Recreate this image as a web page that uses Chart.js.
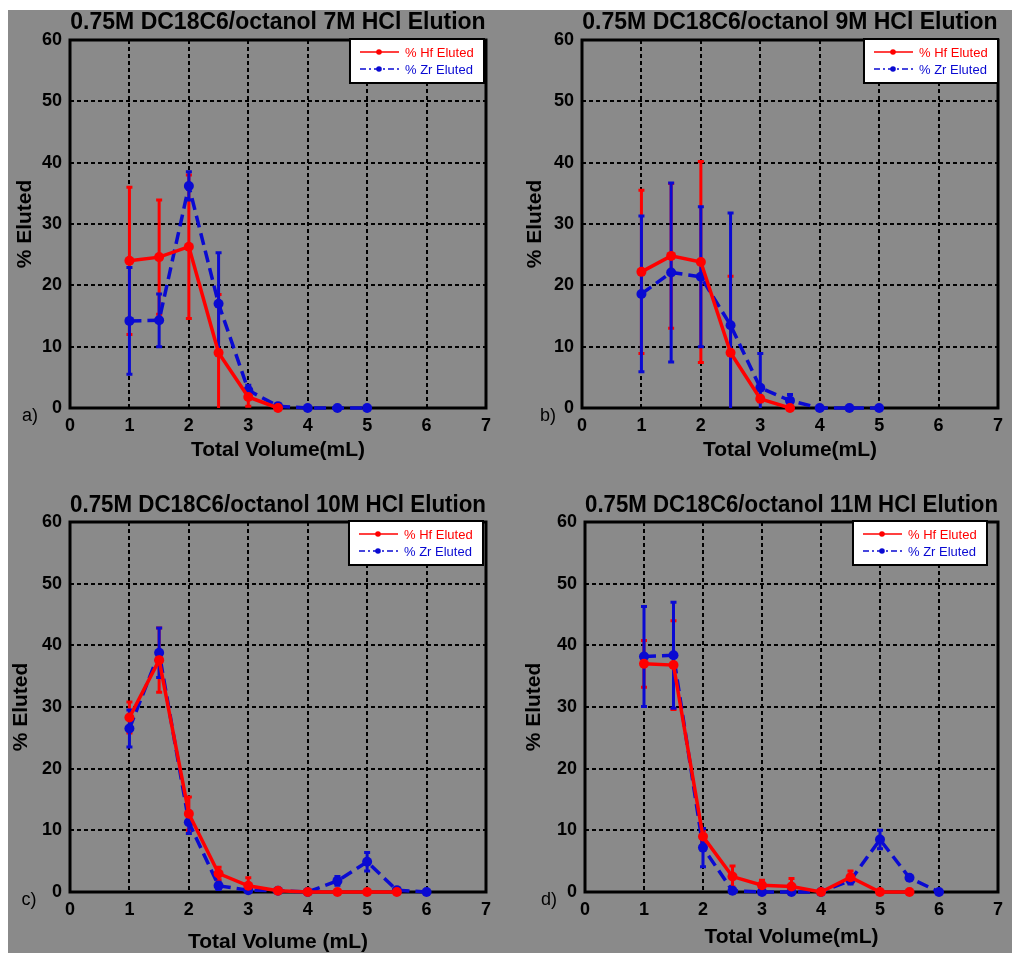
<!DOCTYPE html>
<html>
<head>
<meta charset="utf-8">
<script src="https://cdn.jsdelivr.net/npm/chart.js@4.4.0/dist/chart.umd.min.js"></script>
<style>
  body { margin: 0; background: #fff; }
  #bg { position: absolute; left: 8px; top: 10px; width: 1004px; height: 943px; background: #8a8a8a; }
  canvas { position: absolute; }
</style>
</head>
<body>
<div id="bg"></div>
<canvas id="cA" width="500" height="470" style="left:0;top:0"></canvas>
<canvas id="cB" width="512" height="470" style="left:500px;top:0"></canvas>
<canvas id="cC" width="500" height="475" style="left:0;top:478px"></canvas>
<canvas id="cD" width="512" height="475" style="left:500px;top:478px"></canvas>
<script>
// a) 7M HCl
const volHfA = [1, 1.5, 2, 2.5, 3, 3.5];
const hfA    = [24, 24.6, 26.3, 9, 1.8, 0];
const hfErrA = [12, 9.3, 11.7, 9.5, 1.5, 0];
const volZrA = [1, 1.5, 2, 2.5, 3, 3.5, 4, 4.5, 5];
const zrA    = [14.2, 14.3, 36.2, 17, 2.9, 0.3, 0, 0, 0];
const zrErrA = [8.7, 4.3, 2.3, 8.3, 0.8, 0, 0, 0, 0];

// b) 9M HCl
const volHfB = [1, 1.5, 2, 2.5, 3, 3.5];
const hfB    = [22.2, 24.8, 23.8, 9, 1.5, 0];
const hfErrB = [13.3, 11.8, 16.4, 12.5, 0.5, 0];
const volZrB = [1, 1.5, 2, 2.5, 3, 3.5, 4, 4.5, 5];
const zrB    = [18.6, 22.1, 21.4, 13.5, 3.3, 1.2, 0, 0, 0];
const zrErrB = [12.7, 14.6, 11.4, 18.3, 5.6, 1, 0, 0, 0];

// c) 10M HCl
const volHfC = [1, 1.5, 2, 2.5, 3, 3.5, 4, 4.5, 5, 5.5];
const hfC    = [28.3, 37.6, 12.7, 3, 1, 0.2, 0, 0, 0, 0];
const hfErrC = [2.5, 5.2, 2.7, 1, 1.3, 0, 0, 0, 0, 0];
const volZrC = [1, 1.5, 2, 2.5, 3, 3.5, 4, 4.5, 5, 5.5, 6];
const zrC    = [26.5, 38.8, 11.3, 1, 0.3, 0.2, 0, 1.8, 4.9, 0.3, 0];
const zrErrC = [3, 4, 1.8, 0.6, 0, 0, 0, 0.7, 1.5, 0, 0];

// d) 11M HCl
const volHfD = [1, 1.5, 2, 2.5, 3, 3.5, 4, 4.5, 5, 5.5];
const hfD    = [37, 36.8, 9, 2.5, 1.1, 0.9, 0, 2.4, 0, 0];
const hfErrD = [3.8, 7.2, 1, 1.7, 0.8, 1.3, 0, 1, 0, 0];
const volZrD = [1, 1.5, 2, 2.5, 3, 3.5, 4, 4.5, 5, 5.5, 6];
const zrD    = [38.2, 38.4, 7.2, 0.2, 0, 0, 0, 1.9, 8.5, 2.3, 0];
const zrErrD = [8.1, 8.6, 3.1, 0, 0, 0, 0, 0.6, 1.5, 0, 0];

const xTicks = [0, 1, 2, 3, 4, 5, 6, 7];
const yTicks = [0, 10, 20, 30, 40, 50, 60];

const RED = '#ff0000';
const BLUE = '#0a0ad2';
const FONT = 'Liberation Sans, Arial, sans-serif';

Chart.defaults.font.family = FONT;
Chart.defaults.color = '#000';

// frame first, then all error bars (Hf below Zr), then the lines on top
const errorBars = {
  id: 'errorBars',
  beforeDatasetsDraw(chart) {
    const { ctx, chartArea: a, scales: { x, y } } = chart;
    ctx.save();
    ctx.strokeStyle = '#000';
    ctx.lineWidth = 3;
    ctx.setLineDash([]);
    ctx.strokeRect(a.left, a.top, a.width, a.height);
    ctx.beginPath();
    ctx.rect(a.left, a.top - 2, a.width, a.height + 2);
    ctx.clip();
    chart.data.datasets.forEach(ds => {
      ctx.strokeStyle = ds.borderColor;
      ctx.lineWidth = 3;
      ds.data.forEach((p, i) => {
        const e = ds.err[i];
        if (!e) return;
        const px = x.getPixelForValue(p.x);
        const t = y.getPixelForValue(p.y + e);
        const b = y.getPixelForValue(p.y - e);
        ctx.beginPath();
        ctx.moveTo(px, t); ctx.lineTo(px, b);
        ctx.moveTo(px - 3, t); ctx.lineTo(px + 3, t);
        ctx.moveTo(px - 3, b); ctx.lineTo(px + 3, b);
        ctx.stroke();
      });
    });
    ctx.restore();
  }
};

const panelExtras = {
  id: 'panelExtras',
  afterDraw(chart, args, opts) {
    const { ctx, chartArea: a } = chart;
    ctx.save();
    ctx.fillStyle = '#000';
    ctx.font = '18px ' + FONT;
    ctx.textAlign = 'center';
    ctx.textBaseline = 'middle';
    ctx.fillText(opts.letter, opts.letterX, a.bottom + 8);
    // legend box
    const w = 134, h = 44;
    const lx = a.right - opts.legendInset - w, ly = a.top - 1;
    ctx.fillStyle = '#fff';
    ctx.fillRect(lx, ly, w, h);
    ctx.strokeStyle = '#000';
    ctx.lineWidth = 2;
    ctx.strokeRect(lx, ly, w, h);
    const rows = [
      { label: '% Hf Eluted', color: RED, dash: [] },
      { label: '% Zr Eluted', color: BLUE, dash: [6, 3, 2, 3] }
    ];
    ctx.font = '13px ' + FONT;
    ctx.textAlign = 'left';
    rows.forEach((r, i) => {
      const ry = ly + 13 + i * 17;
      ctx.strokeStyle = r.color;
      ctx.lineWidth = 1.5;
      ctx.setLineDash(r.dash);
      ctx.beginPath();
      ctx.moveTo(lx + 10, ry); ctx.lineTo(lx + 49, ry);
      ctx.stroke();
      ctx.setLineDash([]);
      ctx.fillStyle = r.color;
      ctx.beginPath();
      ctx.arc(lx + 29, ry, 2.8, 0, Math.PI * 2);
      ctx.fill();
      ctx.fillText(r.label, lx + 55, ry + 1);
    });
    ctx.restore();
  }
};

function pts(xs, ys) {
  return xs.map((v, i) => ({ x: v, y: ys[i] }));
}

function makePanel(id, p) {
  new Chart(document.getElementById(id), {
    type: 'line',
    data: {
      datasets: [
        {
          label: '% Hf Eluted',
          data: pts(p.volHf, p.hf),
          err: p.hfErr,
          borderColor: RED,
          backgroundColor: RED,
          borderWidth: 3.5,
          pointRadius: 5,
          pointBorderWidth: 0,
          tension: 0,
          clip: false
        },
        {
          label: '% Zr Eluted',
          data: pts(p.volZr, p.zr),
          err: p.zrErr,
          borderColor: BLUE,
          backgroundColor: BLUE,
          borderWidth: 3.5,
          borderDash: [12, 6],
          pointRadius: 5,
          pointBorderWidth: 0,
          tension: 0,
          clip: false
        }
      ]
    },
    options: {
      responsive: false,
      animation: false,
      devicePixelRatio: 1,
      layout: { padding: { left: 0, right: p.padRight, top: 0, bottom: 0 } },
      plugins: {
        legend: { display: false },
        tooltip: { enabled: false },
        title: {
          display: true,
          text: p.title,
          fullSize: false,
          color: '#000',
          font: { size: 23, weight: 'bold', lineHeight: 1.15 },
          padding: { top: p.titleTop, bottom: p.titleBottom }
        },
        panelExtras: {
          letter: p.letter,
          letterX: p.letterX,
          legendInset: p.legendInset
        }
      },
      scales: {
        x: {
          type: 'linear',
          min: 0,
          max: 7,
          afterBuildTicks: s => { s.ticks = xTicks.map(v => ({ value: v })); },
          afterFit: s => { s.height = p.xHeight; },
          ticks: { font: { size: 18, weight: 'bold', lineHeight: 1 }, padding: 9, color: '#000' },
          grid: { color: '#000', lineWidth: 2, drawTicks: false },
          border: { display: false, dash: [4, 3] },
          title: {
            display: true,
            text: p.xTitle,
            color: '#000',
            font: { size: 21, weight: 'bold', lineHeight: 1 },
            padding: { top: 0, bottom: p.xTitlePad }
          }
        },
        y: {
          min: 0,
          max: 60,
          afterBuildTicks: s => { s.ticks = yTicks.map(v => ({ value: v })); },
          afterFit: s => { s.width = p.yWidth; },
          ticks: { font: { size: 18, weight: 'bold', lineHeight: 1 }, padding: 8, color: '#000' },
          grid: { color: '#000', lineWidth: 2, drawTicks: false },
          border: { display: false, dash: [4, 3] },
          title: {
            display: true,
            text: '% Eluted',
            color: '#000',
            font: { size: 21, weight: 'bold', lineHeight: 1 },
            padding: { top: p.yTitlePad, bottom: 0 }
          }
        }
      }
    },
    plugins: [errorBars, panelExtras]
  });
}

makePanel('cA', {
  title: '0.75M DC18C6/octanol 7M HCl Elution', xTitle: 'Total Volume(mL)', letter: 'a)',
  volHf: volHfA, hf: hfA, hfErr: hfErrA, volZr: volZrA, zr: zrA, zrErr: zrErrA,
  padRight: 11, titleTop: 9, titleBottom: 4.55, xHeight: 62, yWidth: 70,
  xTitlePad: 9.5, yTitlePad: 14.5, letterX: 30, legendInset: 2
});
makePanel('cB', {
  title: '0.75M DC18C6/octanol 9M HCl Elution', xTitle: 'Total Volume(mL)', letter: 'b)',
  volHf: volHfB, hf: hfB, hfErr: hfErrB, volZr: volZrB, zr: zrB, zrErr: zrErrB,
  padRight: 12, titleTop: 9, titleBottom: 4.55, xHeight: 62, yWidth: 82,
  xTitlePad: 9.5, yTitlePad: 24.5, letterX: 48, legendInset: 0
});
makePanel('cC', {
  title: '0.75M DC18C6/octanol 10M HCl Elution', xTitle: 'Total Volume (mL)', letter: 'c)',
  volHf: volHfC, hf: hfC, hfErr: hfErrC, volZr: volZrC, zr: zrC, zrErr: zrErrC,
  padRight: 10, titleTop: 14, titleBottom: 3.55, xHeight: 61, yWidth: 70,
  xTitlePad: 0.5, yTitlePad: 10.5, letterX: 29, legendInset: 3
});
makePanel('cD', {
  title: '0.75M DC18C6/octanol 11M HCl Elution', xTitle: 'Total Volume(mL)', letter: 'd)',
  volHf: volHfD, hf: hfD, hfErr: hfErrD, volZr: volZrD, zr: zrD, zrErr: zrErrD,
  padRight: 9, titleTop: 14, titleBottom: 3.55, xHeight: 61, yWidth: 85,
  xTitlePad: 5.5, yTitlePad: 23.5, letterX: 49, legendInset: 11
});
</script>
</body>
</html>
